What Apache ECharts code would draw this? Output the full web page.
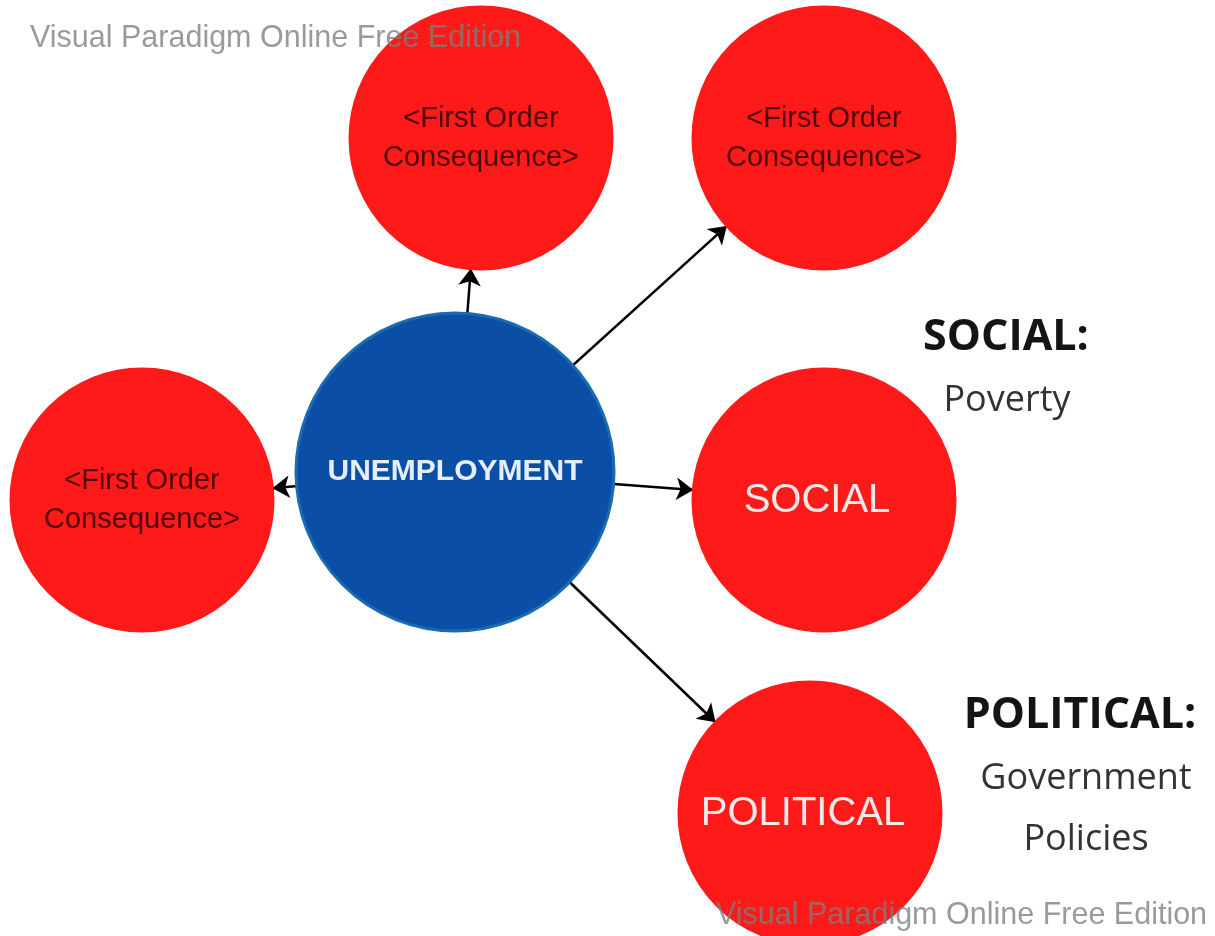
<!DOCTYPE html>
<html><head><meta charset="utf-8">
<script src="https://cdn.jsdelivr.net/npm/echarts@6/dist/echarts.min.js"></script>
<style>html,body{margin:0;padding:0;background:#fff}#c{width:1215px;height:936px}</style>
</head><body><div id="c"></div>
<script>
// ---- data ----
const nodeIds    = ['core', 'focTop', 'focTopRight', 'focLeft', 'social', 'political'];
const nodeLabels = ['UNEMPLOYMENT', '<First Order\nConsequence>', '<First Order\nConsequence>', '<First Order\nConsequence>', 'SOCIAL', 'POLITICAL'];
const nodeKinds  = ['core', 'first', 'first', 'first', 'major', 'major'];
const nodeX      = [455, 481, 824, 142, 824, 810];
const nodeY      = [472, 138, 138, 500, 500, 813];
const edgeSources = ['core', 'core', 'core', 'core', 'core'];
const edgeTargets = ['focTop', 'focTopRight', 'focLeft', 'social', 'political'];
const noteTitles  = ['SOCIAL:', 'POLITICAL:'];
const noteBodies  = [['Poverty'], ['Government', 'Policies']];
const watermark   = 'Visual Paradigm Online Free Edition';

// ---- styles ----
const kindStyle = {
  core:  { size: 318, color: '#0a4ea6', border: '#1b6bb0', label: { color: '#e4eeff', fontSize: 30, fontWeight: 'bold', fontFamily: 'Liberation Sans', offset: [0, 0] } },
  first: { size: 262, color: '#ff1a1a', border: '#ff1a1a', label: { color: '#520808', fontSize: 29, fontFamily: 'Liberation Sans', lineHeight: 39, offset: [0, 0] } },
  major: { size: 262, color: '#ff1a1a', border: '#ff1a1a', label: { color: '#fbe9e9', fontSize: 40, fontFamily: 'Liberation Sans', offset: [-7, 1] } }
};

const nodes = nodeIds.map((id, i) => {
  const s = kindStyle[nodeKinds[i]];
  return {
    id: id,
    name: id,
    value: [nodeX[i], nodeY[i]],
    symbolSize: s.size,
    itemStyle: { color: s.color, borderColor: s.border, borderWidth: 3 },
    label: Object.assign({ show: true, position: 'inside', formatter: nodeLabels[i] }, s.label)
  };
});
const links = edgeSources.map((s, i) => ({ source: s, target: edgeTargets[i] }));

const chart = echarts.init(document.getElementById('c'), null, { renderer: 'canvas' });

const noteGraphics = [];
const titlePos = [[1006, 338], [1080, 716]];
const bodyX = [1007, 1086];
noteTitles.forEach((t, i) => {
  noteGraphics.push({ type: 'text', x: titlePos[i][0], y: titlePos[i][1], z: 50,
    style: { text: t, fill: '#141414', font: 'bold 43px "Open Sans"', align: 'center', verticalAlign: 'middle' } });
  noteBodies[i].forEach((b, j) => {
    noteGraphics.push({ type: 'text', x: bodyX[i], y: titlePos[i][1] + 63 + j * 61, z: 50,
      style: { text: b, fill: '#333', font: '36px "Open Sans"', align: 'center', verticalAlign: 'middle' } });
  });
});
const wm = [[30, 39], [716, 916]];
wm.forEach(p => noteGraphics.push({ type: 'text', x: p[0], y: p[1], z: 100,
  style: { text: watermark, fill: 'rgba(125,125,125,0.78)', font: '30.5px "Liberation Sans"', align: 'left', verticalAlign: 'middle' } }));

chart.setOption({
  backgroundColor: '#ffffff',
  animation: false,
  grid: { left: 0, right: 0, top: 0, bottom: 0 },
  xAxis: { type: 'value', min: 0, max: 1215, show: false },
  yAxis: { type: 'value', min: 0, max: 936, inverse: true, show: false },
  graphic: noteGraphics,
  series: [{
    type: 'graph',
    coordinateSystem: 'cartesian2d',
    layout: 'none',
    data: nodes,
    links: links,
    edgeSymbol: ['none', 'arrow'],
    edgeSymbolSize: [0, 17],
    lineStyle: { color: '#000', width: 2.5, opacity: 1, curveness: 0 },
    emphasis: { disabled: true }
  }]
});
</script>
</body></html>
